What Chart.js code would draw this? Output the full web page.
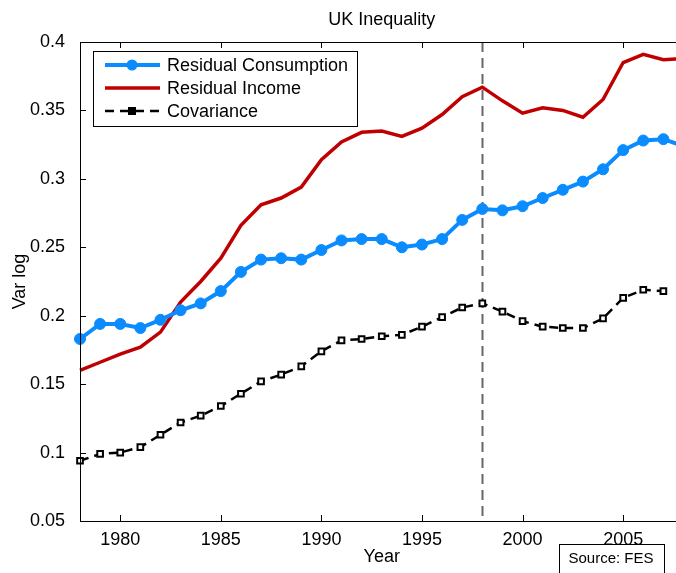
<!DOCTYPE html>
<html>
<head>
<meta charset="utf-8">
<title>UK Inequality</title>
<script src="https://cdn.jsdelivr.net/npm/chart.js@4/dist/chart.umd.min.js"></script>
<style>
    html, body { margin: 0; padding: 0; background: #fff; overflow: hidden; }
    #wrap { width: 676px; height: 573px; overflow: hidden; }
    canvas { display: block; }
</style>
</head>
<body>
<div id="wrap">
    <canvas id="ukChart" width="690" height="573" style="width:690px;height:573px"></canvas>
</div>
<script>
    // data
    const years = [1978, 1979, 1980, 1981, 1982, 1983, 1984, 1985, 1986, 1987, 1988, 1989, 1990, 1991, 1992,
        1993, 1994, 1995, 1996, 1997, 1998, 1999, 2000, 2001, 2002, 2003, 2004, 2005, 2006, 2007, 2008];
    const consumption = [0.183, 0.194, 0.194, 0.191, 0.197, 0.204, 0.209, 0.218, 0.232, 0.241, 0.242, 0.241, 0.248, 0.255, 0.256,
        0.256, 0.250, 0.252, 0.256, 0.270, 0.278, 0.277, 0.280, 0.286, 0.292, 0.298, 0.307, 0.321, 0.328, 0.329, 0.324];
    const income = [0.160, 0.166, 0.172, 0.177, 0.188, 0.210, 0.225, 0.242, 0.266, 0.281, 0.286, 0.294, 0.314, 0.327, 0.334,
        0.335, 0.331, 0.337, 0.347, 0.360, 0.367, 0.357, 0.348, 0.352, 0.350, 0.345, 0.358, 0.385, 0.391, 0.387, 0.388];
    const covariance = [0.094, 0.099, 0.100, 0.104, 0.113, 0.122, 0.127, 0.134, 0.143, 0.152, 0.157, 0.163, 0.174, 0.182, 0.183,
        0.185, 0.186, 0.192, 0.199, 0.206, 0.209, 0.203, 0.196, 0.192, 0.191, 0.191, 0.198, 0.213, 0.219, 0.218, null];
    const seriesNames = ['Residual Consumption', 'Residual Income', 'Covariance'];
    const xTickValues = [1980, 1985, 1990, 1995, 2000, 2005];
    const yTickValues = [0.05, 0.1, 0.15, 0.2, 0.25, 0.3, 0.35, 0.4];
    const markerYear = 1998;
    const xRange = [1978, 2008];
    const yRange = [0.05, 0.4];
    const sourceNote = 'Source: FES';

    const FONT = '"Liberation Sans", Arial, Helvetica, sans-serif';
    const blue = '#0a8cff';
    const red = '#c00000';

    const toPoints = arr => arr.map((v, i) => ({ x: years[i], y: v }));

    // frame, inward ticks, 1998 line, legend box and source note
    const extras = {
        id: 'extras',
        beforeDatasetsDraw(chart) {
            const { ctx, chartArea: a, scales: { x } } = chart;
            const px = Math.round(x.getPixelForValue(markerYear)) + 0.5;
            ctx.save();
            ctx.strokeStyle = '#666';
            ctx.lineWidth = 2;
            ctx.setLineDash([10, 6]);
            ctx.beginPath();
            ctx.moveTo(px, a.top);
            ctx.lineTo(px, a.bottom);
            ctx.stroke();
            ctx.restore();
        },
        afterDraw(chart) {
            const { ctx, chartArea: a, scales: { x, y } } = chart;
            ctx.save();
            ctx.strokeStyle = '#000';
            ctx.lineWidth = 1;
            ctx.strokeRect(a.left + 0.5, a.top + 0.5, a.right - a.left, a.bottom - a.top);
            ctx.beginPath();
            x.ticks.forEach(t => {
                const p = Math.round(x.getPixelForValue(t.value)) + 0.5;
                ctx.moveTo(p, a.bottom); ctx.lineTo(p, a.bottom - 6);
                ctx.moveTo(p, a.top); ctx.lineTo(p, a.top + 6);
            });
            y.ticks.forEach(t => {
                const p = Math.round(y.getPixelForValue(t.value)) + 0.5;
                ctx.moveTo(a.left, p); ctx.lineTo(a.left + 6, p);
                ctx.moveTo(a.right, p); ctx.lineTo(a.right - 6, p);
            });
            ctx.stroke();

            // legend
            const lx = 93, ly = 51;
            ctx.fillStyle = '#fff';
            ctx.fillRect(lx, ly, 264, 75);
            ctx.strokeRect(lx + 0.5, ly + 0.5, 264, 75);
            const rows = [65, 88, 111];
            ctx.font = '18px ' + FONT;
            ctx.textBaseline = 'middle';
            chart.data.datasets.forEach((ds, i) => {
                const ry = rows[i];
                ctx.save();
                ctx.strokeStyle = ds.borderColor;
                ctx.lineWidth = ds.borderWidth;
                ctx.setLineDash(ds.borderDash || []);
                ctx.beginPath();
                ctx.moveTo(105, ry);
                ctx.lineTo(160, ry);
                ctx.stroke();
                ctx.setLineDash([]);
                if (ds.pointStyle === 'circle') {
                    ctx.fillStyle = ds.pointBackgroundColor;
                    ctx.beginPath();
                    ctx.arc(132, ry, 5.5, 0, Math.PI * 2);
                    ctx.fill();
                } else if (ds.pointStyle === 'rect') {
                    ctx.fillStyle = '#000';
                    ctx.fillRect(128, ry - 4, 8, 8);
                }
                ctx.restore();
                ctx.fillStyle = '#000';
                ctx.textAlign = 'left';
                ctx.fillText(ds.label, 167, ry + 1);
            });

            // source note
            ctx.fillStyle = '#fff';
            ctx.fillRect(559, 544, 105, 40);
            ctx.strokeRect(559.5, 544.5, 105, 40);
            ctx.fillStyle = '#000';
            ctx.font = '15px ' + FONT;
            ctx.textAlign = 'center';
            ctx.fillText(sourceNote, 611, 559);
            ctx.restore();
        }
    };

    const lineData = {
        datasets: [
            {
                label: seriesNames[0],
                data: toPoints(consumption),
                borderColor: blue,
                borderWidth: 4,
                pointStyle: 'circle',
                pointRadius: 5.5,
                pointBackgroundColor: blue,
                pointBorderColor: blue,
                pointBorderWidth: 1,
                clip: false
            },
            {
                label: seriesNames[1],
                data: toPoints(income),
                borderColor: red,
                borderWidth: 3.5,
                pointRadius: 0,
                pointStyle: false,
                clip: false
            },
            {
                label: seriesNames[2],
                data: toPoints(covariance),
                borderColor: '#000',
                borderWidth: 2.5,
                borderDash: [9, 6],
                pointStyle: 'rect',
                pointRadius: 4,
                pointBackgroundColor: '#fff',
                pointBorderColor: '#000',
                pointBorderWidth: 2,
                clip: false
            }
        ]
    };

    const lineOptions = {
        responsive: false,
        animation: false,
        devicePixelRatio: 1,
        layout: { padding: { left: 0, right: 4, top: 0, bottom: 0 } },
        elements: { line: { tension: 0 } },
        plugins: {
            legend: { display: false },
            tooltip: { enabled: false },
            title: {
                display: true,
                text: 'UK Inequality',
                fullSize: false,
                color: '#000',
                font: { family: FONT, size: 18, weight: 'normal' },
                padding: { top: 9, bottom: 11.4 }
            }
        },
        scales: {
            x: {
                type: 'linear',
                min: xRange[0],
                max: xRange[1],
                afterBuildTicks: s => { s.ticks = xTickValues.map(v => ({ value: v })); },
                afterFit: s => { s.height = 52; },
                grid: { display: false },
                border: { display: false },
                ticks: {
                    color: '#000',
                    padding: 0,
                    maxRotation: 0,
                    autoSkip: false,
                    font: { family: FONT, size: 18 },
                    callback: v => String(v)
                },
                title: {
                    display: true,
                    text: 'Year',
                    color: '#000',
                    font: { family: FONT, size: 18 },
                    padding: { top: 0, bottom: 5 }
                }
            },
            y: {
                min: yRange[0],
                max: yRange[1],
                afterBuildTicks: s => { s.ticks = yTickValues.map(v => ({ value: v })); },
                afterFit: s => { s.width = 80; },
                grid: { display: false },
                border: { display: false },
                ticks: {
                    color: '#000',
                    padding: 7,
                    autoSkip: false,
                    font: { family: FONT, size: 18 },
                    callback: v => String(+v.toFixed(2))
                },
                title: {
                    display: true,
                    text: 'Var log',
                    color: '#000',
                    font: { family: FONT, size: 18 },
                    padding: { top: 9, bottom: 0 }
                }
            }
        }
    };

    const ukChart = new Chart(document.getElementById('ukChart'), {
        type: 'line',
        data: lineData,
        options: lineOptions,
        plugins: [extras]
    });
</script>
</body>
</html>
